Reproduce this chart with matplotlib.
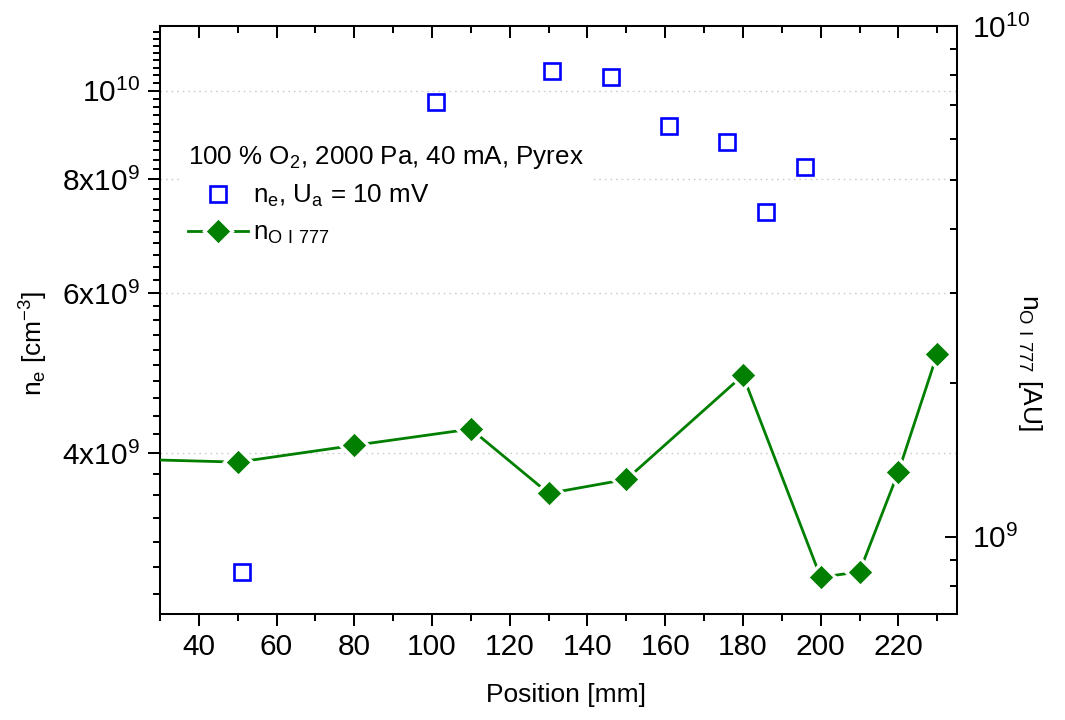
import matplotlib
matplotlib.use("Agg")
import matplotlib.pyplot as plt
import numpy as np
from matplotlib.ticker import FixedLocator, FixedFormatter, MultipleLocator, NullFormatter, LogLocator

plt.rcParams['font.family'] = ['Liberation Sans', 'DejaVu Sans']
plt.rcParams['mathtext.default'] = 'regular'

# Electron density from probe (left axis)
pos_ne = [51, 101, 131, 146, 161, 176, 186, 196]
ne = [2.96e9, 9.71e9, 1.052e10, 1.035e10, 9.15e9, 8.78e9, 7.36e9, 8.24e9]

# O I 777 nm emission-derived density (right axis)
pos_o = [20, 50, 80, 110, 130, 150, 180, 200, 210, 220, 230]
n_o = [1.42e9, 1.40e9, 1.51e9, 1.625e9, 1.216e9, 1.295e9, 2.07e9, 8.33e8, 8.54e8, 1.34e9, 2.28e9]

left_ticks = [4e9, 6e9, 8e9, 1e10]
left_labels = [r'$4x10^9$', r'$6x10^9$', r'$8x10^9$', r'$10^{10}$']
right_ticks = [1e9, 1e10]
right_labels = [r'$10^9$', r'$10^{10}$']

GREEN = '#007f00'
BLUE = '#0000ff'
TICK_FS = 21.5
LABEL_FS = 19
LEG_FS = 18.7
LW = 1.45

fig = plt.figure(figsize=(10.65, 7.2), dpi=100)
ax = fig.add_axes([0.1502, 0.1468, 0.7481, 0.8171])
ax.set_xlim(30, 235)
ax.set_yscale('log')
ax.set_ylim(2.663e9, 1.178e10)

ax2 = ax.twinx()
ax2.set_yscale('log')
ax2.set_ylim(7.05e8, 1e10)

for a in (ax, ax2):
    for sp in a.spines.values():
        sp.set_linewidth(LW)

# dotted grid on left major ticks
ax.yaxis.grid(True, which='major', linestyle=(0, (1.2, 2.8)), color='#cccccc', linewidth=1.0)
ax.set_axisbelow(True)

# x axis ticks
ax.xaxis.set_major_locator(MultipleLocator(20))
ax.xaxis.set_minor_locator(MultipleLocator(10))
ax.tick_params(axis='x', which='both', direction='out', top=False, width=LW,
               labelsize=TICK_FS, pad=5)
ax.tick_params(axis='x', which='major', length=8.6)
ax.tick_params(axis='x', which='minor', length=5)

top = ax.secondary_xaxis('top')
top.xaxis.set_major_locator(MultipleLocator(20))
top.xaxis.set_minor_locator(MultipleLocator(10))
top.tick_params(axis='x', which='both', direction='in', labeltop=False, width=LW)
top.tick_params(axis='x', which='major', length=8.6)
top.tick_params(axis='x', which='minor', length=5)
top.spines['top'].set_linewidth(LW)

# left y axis ticks
ax.yaxis.set_major_locator(FixedLocator(left_ticks))
ax.yaxis.set_major_formatter(FixedFormatter(left_labels))
ax.yaxis.set_minor_locator(FixedLocator(np.arange(2.8e9, 1.17e10, 0.2e9)))
ax.yaxis.set_minor_formatter(NullFormatter())
ax.tick_params(axis='y', which='both', direction='out', right=False, width=LW,
               labelsize=TICK_FS, pad=6)
ax.tick_params(axis='y', which='major', length=8.6)
ax.tick_params(axis='y', which='minor', length=5)

# right y axis ticks
ax2.yaxis.set_major_locator(FixedLocator(right_ticks))
ax2.yaxis.set_major_formatter(FixedFormatter(right_labels))
ax2.yaxis.set_minor_locator(LogLocator(base=10, subs=np.arange(2, 10)))
ax2.yaxis.set_minor_formatter(NullFormatter())
ax2.tick_params(axis='y', which='both', direction='in', width=LW,
                labelsize=TICK_FS, pad=10.8)
ax2.tick_params(axis='y', which='major', length=8.6)
ax2.tick_params(axis='y', which='minor', length=5)

h1, = ax.plot(pos_ne, ne, linestyle='none', marker='s', ms=11.5, mfc='white',
              mec=BLUE, mew=1.9, zorder=3)
h2, = ax2.plot(pos_o, n_o, linestyle='-', color=GREEN, lw=2.0, marker='D', ms=14.5,
               mfc=GREEN, mec='white', mew=2.4, zorder=3)

ax.set_xlabel('Position [mm]', fontsize=LABEL_FS)
ax.xaxis.set_label_coords(0.5096, -0.117)
ax.set_ylabel(r'$n_e$ [cm$^{-3}$]', fontsize=LABEL_FS)
ax.yaxis.set_label_coords(-0.138, 0.461)
ax2.set_ylabel(r'$n_{O\ I\ 777}$ [AU]', fontsize=LABEL_FS, rotation=270, va='bottom')
ax2.yaxis.set_label_coords(1.075, 0.429)

leg = ax2.legend([h1, h2], [r'$n_e$, $U_a$ = 10 mV', r'$n_{O\ I\ 777}$'],
                 title=r'100 % O$_2$, 2000 Pa, 40 mA, Pyrex',
                 loc='upper left', bbox_to_anchor=(0.026, 0.812),
                 frameon=True, fancybox=False, edgecolor='none', facecolor='white',
                 framealpha=1, fontsize=LEG_FS, title_fontsize=LEG_FS,
                 alignment='left', handlelength=2.3, handletextpad=0.2,
                 borderpad=0.3, labelspacing=0.45, borderaxespad=0)

fig.savefig('out.png', dpi=100)
